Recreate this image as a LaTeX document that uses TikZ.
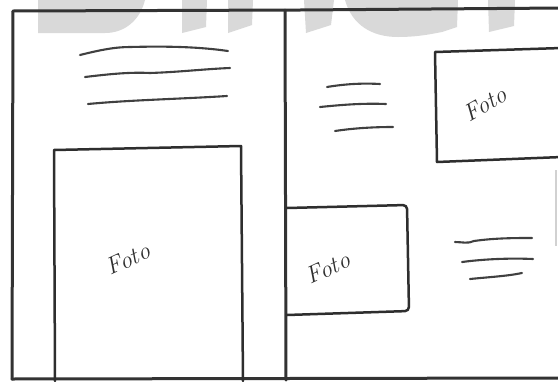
\documentclass[tikz,border=0pt]{standalone}
\usepackage{fontspec}
\setmainfont{Latin Modern Roman}
\begin{document}
\begin{tikzpicture}[x=1pt,y=-1pt,
  pencil/.style={draw=black!80,line width=3pt,line cap=round,line join=round},
  boxline/.style={draw=black!82,line width=2.5pt,line cap=round,line join=round},
  scribble/.style={draw=black!75,line width=2.1pt,line cap=round},
  fotolabel/.style={font=\itshape\fontsize{24}{24}\selectfont,text=black!82,inner sep=0pt},
  wmark/.style={fill=black!15,draw=none}]
\useasboundingbox (0,0) rectangle (558,381);
\fill[white] (0,0) rectangle (558,381);
\clip (0,0) rectangle (558,381);
% watermark remnants
\path[wmark] (38,0) -- (38,33) -- (105,33) .. controls (125,33) and (140,20) .. (145,0) -- cycle;
\path[wmark] (182,0) -- (207,0) -- (206,27) -- (182,33) -- cycle;
\path[wmark] (228,0) -- (253,0) -- (252,25) -- (228,33) -- cycle;
\path[wmark] (304,0) -- (334,0) -- (331,25) -- (306,33) -- cycle;
\path[wmark] (345,0) .. controls (352,25) and (372,37) .. (398,37) .. controls (420,37) and (436,33) .. (442,32) -- (457,27) -- (458,0) -- cycle;
\path[wmark] (488,0) -- (515,0) -- (514,26) -- (489,32) -- cycle;
% frame
\coordinate (tl) at (13,11);
\coordinate (bl) at (12,379);
\coordinate (tr) at (562,8);
\coordinate (br) at (562,378);
\coordinate (st) at (285,10);
\coordinate (sb) at (286,380);
\draw[pencil] (tl) -- (300,10) -- (tr);
\draw[pencil] (tl) -- (bl);
\draw[pencil] (bl) -- (br);
\draw[pencil] (st) -- (sb);
\draw[draw=black!18,line width=1.2pt] (556,170) -- (556,246);
% left photo box
\draw[boxline] (55,381) -- (54,150) -- (241,146) -- (243,381);
\node[fotolabel,rotate=25] (f1) at (128,259) {Foto};
% top right photo box
\draw[boxline] (562,48) -- (435,52) -- (437,162) -- (562,157);
\node[fotolabel,rotate=30] (f2) at (485,104) {Foto};
% middle photo box
\draw[boxline,rounded corners=4pt] (287,208) -- (407,205) -- (409,311) -- (287,315);
\node[fotolabel,rotate=25] (f3) at (328,268) {Foto};
% left text scribbles
\draw[scribble] (80,55) .. controls (100,50) and (115,47) .. (130,47) .. controls (170,46) and (200,47) .. (228,51);
\draw[scribble] (85,77) .. controls (110,74) and (130,72) .. (150,73) .. controls (180,72) and (205,69) .. (230,68);
\draw[scribble] (88,104) .. controls (130,100) and (180,99) .. (227,96);
% right top scribbles
\draw[scribble] (327,87) .. controls (345,84) and (362,83) .. (380,84);
\draw[scribble] (320,107) .. controls (340,105) and (362,103) .. (386,104);
\draw[scribble] (335,131) .. controls (355,128) and (375,127) .. (393,127);
% right bottom scribbles
\draw[scribble] (455,242) .. controls (462,242) and (468,244) .. (474,241) .. controls (495,238) and (515,238) .. (532,238);
\draw[scribble] (462,262) .. controls (485,259) and (510,258) .. (533,259);
\draw[scribble] (470,279) .. controls (490,277) and (508,276) .. (522,273);
\end{tikzpicture}
\end{document}
